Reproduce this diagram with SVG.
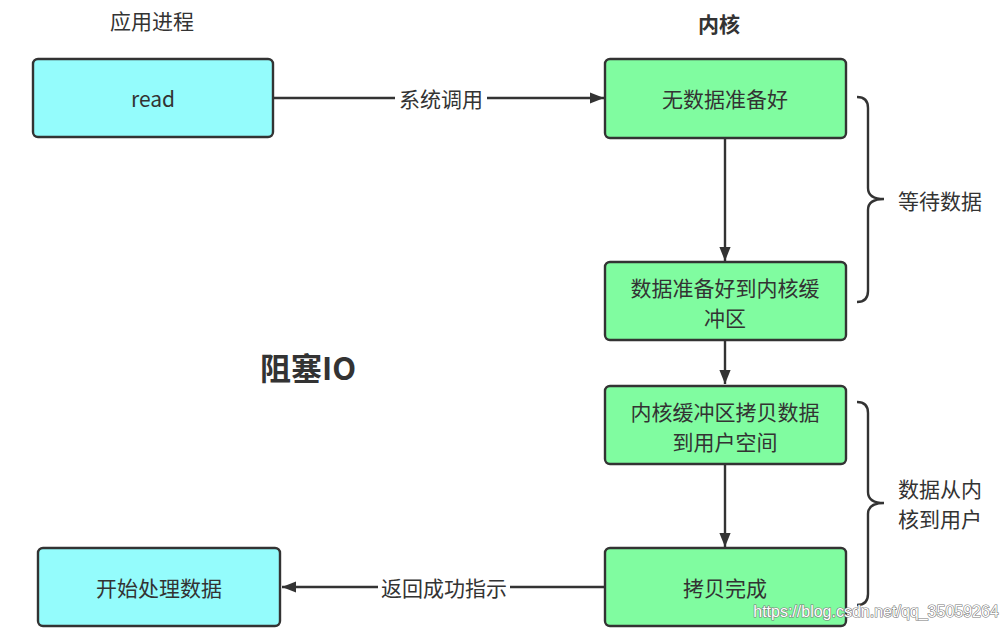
<svg xmlns="http://www.w3.org/2000/svg" width="1007" height="630" viewBox="0 0 1007 630">
<style>
text{font-family:"Noto Sans CJK SC","Liberation Sans",sans-serif;fill:#333;}
.n{stroke:#333;stroke-width:2.4;}
.cy{fill:#94fcfc;}
.gr{fill:#80fca0;}
.t{font-size:21px;text-anchor:middle;dominant-baseline:central;}
.c{fill:none;stroke:#333;stroke-width:2.4;}
.lb{font-size:21px;text-anchor:middle;dominant-baseline:central;}
</style>
<defs>
<marker id="ah2" viewBox="0 0 10 10" refX="10" refY="5" markerWidth="14" markerHeight="14" markerUnits="userSpaceOnUse" orient="auto"><path d="M0,1 L10,5 L0,9 z" fill="#333"/></marker>
</defs>
<text x="152" y="20" class="t">应用进程</text>
<text x="719" y="23" class="t" style="font-weight:bold">内核</text>
<text x="308" y="366" class="t" style="font-size:31px;font-weight:bold">阻塞IO</text>

<g id="connectors">
<path class="c" d="M274,98 H395 M487,98 H604" marker-end="url(#ah2)"/>
<text x="441" y="98" class="lb">系统调用</text>
<path class="c" d="M725,139 V261" marker-end="url(#ah2)"/>
<path class="c" d="M725,341 V384" marker-end="url(#ah2)"/>
<path class="c" d="M725,465 V547" marker-end="url(#ah2)"/>
<path class="c" d="M604,587 H510 M378,587 H282" marker-end="url(#ah2)"/>
<text x="444" y="587" class="lb">返回成功指示</text>
<path class="c" d="M857,97 Q868,97 868,108 V188 Q868,199 884,199 Q868,199 868,210 V291 Q868,302 857,302"/>
<path class="c" d="M857,402 Q868,402 868,413 V492 Q868,503 884,503 Q868,503 868,514 V594 Q868,605 857,605"/>
</g>

<g id="read"><rect class="n cy" x="33" y="59" width="240" height="78" rx="5"/><text x="153" y="98" class="t">read</text></g>
<g id="nodata"><rect class="n gr" x="605" y="59" width="241" height="79" rx="5"/><text x="725" y="98" class="t">无数据准备好</text></g>
<g id="ready"><rect class="n gr" x="605" y="262" width="241" height="78" rx="5"/><text x="725" y="287" class="t">数据准备好到内核缓</text><text x="725" y="317" class="t">冲区</text></g>
<g id="copy"><rect class="n gr" x="605" y="386" width="241" height="78" rx="5"/><text x="725" y="411" class="t">内核缓冲区拷贝数据</text><text x="725" y="441" class="t">到用户空间</text></g>
<g id="done"><rect class="n gr" x="605" y="548" width="241" height="78" rx="5"/><text x="725" y="587" class="t">拷贝完成</text></g>
<g id="process"><rect class="n cy" x="38" y="548" width="242" height="78" rx="5"/><text x="159" y="587" class="t">开始处理数据</text></g>

<g id="brace-labels">
<text x="940" y="200" class="t">等待数据</text>
<text x="940" y="488" class="t">数据从内</text>
<text x="940" y="518" class="t">核到用户</text>
</g>
<text x="876" y="611" style="font-family:'Liberation Sans',sans-serif;font-size:16px;text-anchor:middle;dominant-baseline:central;fill:#fff;stroke:#777;stroke-width:1.2;paint-order:stroke">https://blog.csdn.net/qq_35059264</text>
</svg>
